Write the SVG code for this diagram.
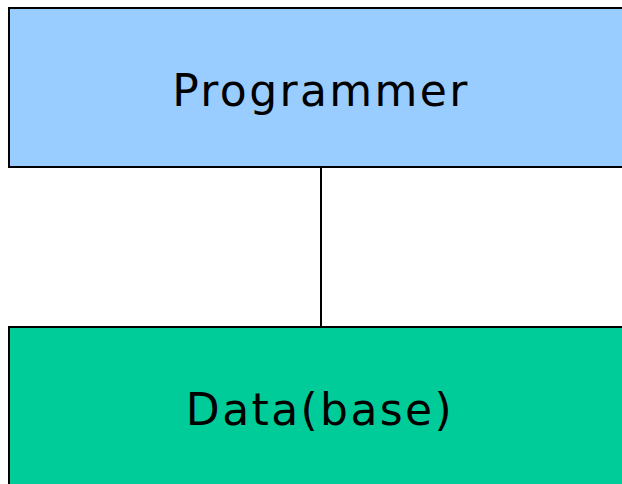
<svg xmlns="http://www.w3.org/2000/svg" width="622" height="484" viewBox="0 0 622 484">
<style>
.box{stroke:#000;stroke-width:2}
.lbl{font-family:"DejaVu Sans","Liberation Sans",sans-serif;font-size:44px;fill:#000;text-anchor:middle;letter-spacing:2.4px}
.conn{stroke:#000;stroke-width:2;fill:none}
</style>
<rect width="622" height="484" fill="#fff"/>
<g id="connectors">
<line class="conn" x1="321" y1="167" x2="321" y2="327"/>
</g>
<g id="programmer">
<rect class="box" x="9" y="8" width="630" height="159" fill="#99CCFF"/>
<text class="lbl" x="321" y="106">Programmer</text>
</g>
<g id="database">
<rect class="box" x="9" y="327" width="630" height="180" fill="#00CC99"/>
<text class="lbl" x="320" y="425">Data(base)</text>
</g>
</svg>
